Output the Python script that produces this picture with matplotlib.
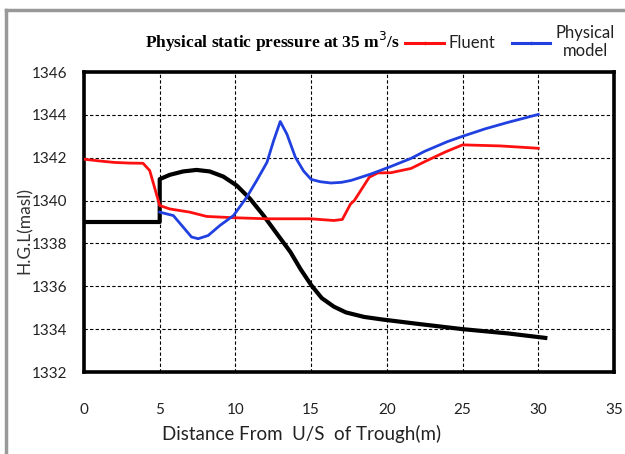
import matplotlib
matplotlib.use("Agg")
import matplotlib.pyplot as plt
from matplotlib.lines import Line2D

# Data
fluent_x = [0, 1, 2, 3, 3.9, 4.34, 5.0, 5.66, 6.99, 8.1, 9.87, 12.08, 14.96, 16.5, 17.06,
            17.6, 17.85, 18.84, 19.4, 20.26, 21.6, 22.6, 23.9, 25.0, 27.5, 30.0]
fluent_y = [1341.93, 1341.85, 1341.78, 1341.75, 1341.74, 1341.4, 1339.77, 1339.61, 1339.46,
            1339.26, 1339.2, 1339.15, 1339.15, 1339.07, 1339.12, 1339.84, 1340.0, 1341.09,
            1341.29, 1341.3, 1341.5, 1341.85, 1342.28, 1342.6, 1342.55, 1342.44]

phys_x = [5.0, 5.9, 6.55, 7.1, 7.54, 8.2, 8.98, 9.87, 10.75, 11.4, 12.08, 12.52, 12.96, 13.4,
          13.96, 14.5, 15.0, 15.6, 16.3, 17.0, 17.64, 18.95, 20.26, 21.6, 22.5, 24.0, 25.0,
          26.5, 28.0, 30.0]
phys_y = [1339.46, 1339.3, 1338.76, 1338.3, 1338.22, 1338.37, 1338.84, 1339.3, 1340.16,
          1340.93, 1341.78, 1342.79, 1343.69, 1343.1, 1342.02, 1341.38, 1340.99, 1340.88,
          1340.82, 1340.85, 1340.94, 1341.24, 1341.59, 1341.97, 1342.3, 1342.75, 1343.0,
          1343.35, 1343.65, 1344.02]

bed_x = [0, 5, 5, 5.66, 6.55, 7.43, 8.3, 9.2, 10.09, 10.97, 11.86, 12.74, 13.63, 14.3, 15.0,
         15.7, 16.5, 17.3, 18.5, 19.7, 22, 25, 28, 30.6]
bed_y = [1339.0, 1339.0, 1341.0, 1341.2, 1341.36, 1341.43, 1341.36, 1341.12, 1340.7, 1340.08,
         1339.3, 1338.45, 1337.6, 1336.8, 1336.06, 1335.45, 1335.05, 1334.78, 1334.57, 1334.45,
         1334.25, 1334.0, 1333.8, 1333.58]

x_ticks = [0, 5, 10, 15, 20, 25, 30, 35]
y_ticks = [1332, 1334, 1336, 1338, 1340, 1342, 1344, 1346]

plt.rcParams['font.family'] = ['Lato', 'DejaVu Sans']

fig = plt.figure(figsize=(6.25, 4.54), dpi=100)
ax = fig.add_axes([84/625, 1-372/454, (614-84)/625, (372-72)/454])

ax.plot(bed_x, bed_y, color='black', lw=3.0, solid_capstyle='butt', solid_joinstyle='round',
        zorder=3)
ax.plot(fluent_x, fluent_y, color='#ff1010', lw=2.0, solid_joinstyle='round', zorder=4)
ax.plot(phys_x, phys_y, color='#2040e0', lw=2.0, solid_joinstyle='round', zorder=4)

ax.set_xlim(0, 35)
ax.set_ylim(1332, 1346)
ax.set_xticks(x_ticks)
ax.set_yticks(y_ticks)
ax.grid(True, color='black', linestyle=(0, (3, 2)), lw=0.8)
ax.tick_params(length=0, labelsize=11, colors='#222222')
ax.tick_params(axis='x', pad=22)
ax.tick_params(axis='y', pad=12)
for s in ax.spines.values():
    s.set_linewidth(2.6)
    s.set_color('black')

ax.set_xlabel('Distance From  U/S  of Trough(m)', fontsize=13.5, color='#222222')
ax.xaxis.set_label_coords((302-84)/530, -(425-372)/300)
fig.text(25/625, 1-230/454, 'H.G.L(masl)', rotation=90, fontsize=12.5, ha='center',
         va='center', color='#333333')

fig.text(272/625, 1-42/454, r'Physical static pressure at 35 m$^3$/s', ha='center', va='center',
         fontsize=12.5, fontweight='bold', family='Liberation Serif')

h1 = Line2D([], [], color='#ff1010', lw=2.2, marker='.', markersize=3)
h2 = Line2D([], [], color='#2040e0', lw=2.2, marker='.', markersize=3)
leg = fig.legend([h1, h2], ['Fluent', 'Physical\nmodel'], ncol=2, frameon=False,
                 loc='center', bbox_to_anchor=(510/625, 1-42/454), fontsize=12,
                 handlelength=2.3, handletextpad=0.3, columnspacing=1.0)
for t in leg.get_texts():
    t.set_multialignment('center')
    t.set_color('#222222')

# outer grey border (left and top)
fig.add_artist(Line2D([5.5/625, 5.5/625], [0, 1-10/454], color='#999999', lw=2.5,
                      transform=fig.transFigure))
fig.add_artist(Line2D([5.5/625, 1], [1-10/454, 1-10/454], color='#999999', lw=2.5,
                      transform=fig.transFigure))

fig.savefig('out.png', dpi=100)
